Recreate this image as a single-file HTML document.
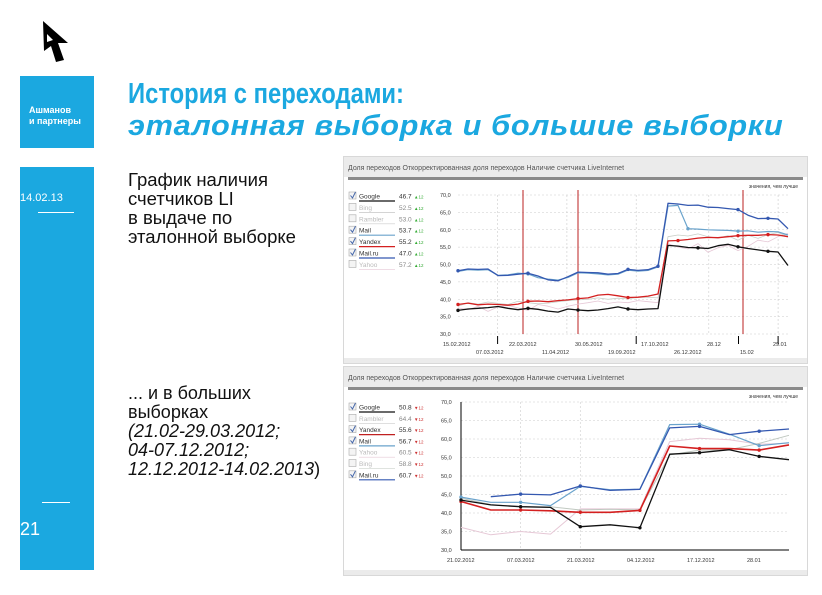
<!DOCTYPE html>
<html><head><meta charset="utf-8">
<style>
body{margin:0;width:822px;height:595px;background:#fff;position:relative;overflow:hidden;font-family:"Liberation Sans",sans-serif}
.abs{position:absolute}
.blue{background:#1ba8e0}
.t1{left:128px;top:78px;font-size:29px;font-weight:bold;color:#1ba8e0;white-space:nowrap;transform-origin:0 0;transform:scaleX(0.82)}
.t2{left:128px;top:110px;font-size:29px;font-weight:bold;font-style:italic;color:#1ba8e0;white-space:nowrap;letter-spacing:0.6px;transform-origin:0 0;transform:scaleX(1.06)}
.body{font-size:18.5px;line-height:19px;color:#111}
</style></head><body>
<svg class="abs" style="left:38px;top:18px" width="36" height="48"><polygon points="5,3 30,25 20,25 26,42 18,44 13,28 6,33" fill="#000"/><polygon points="9,16 15,22 9,24" fill="#fff"/></svg>
<div class="abs blue" style="left:20px;top:76px;width:74px;height:72px">
<div style="color:#fff;font-size:9px;font-weight:bold;margin:29px 0 0 9px;line-height:11px">Ашманов<br>и партнеры</div></div>
<div class="abs blue" style="left:20px;top:167px;width:74px;height:403px">
<div class="abs" style="left:0;top:25px;color:#fff;font-size:11px">14.02.13</div>
<div class="abs" style="left:18px;top:45px;width:36px;height:1px;background:#fff"></div>
<div class="abs" style="left:22px;top:335px;width:28px;height:1px;background:#fff"></div>
<div class="abs" style="left:0;top:352px;color:#fff;font-size:18px">21</div>
</div>
<div class="abs t1">История с переходами:</div>
<div class="abs t2">эталонная выборка и большие выборки</div>
<div class="abs body" style="left:128px;top:170px">График наличия<br>счетчиков LI<br>в выдаче по<br>эталонной выборке</div>
<div class="abs body" style="left:128px;top:384px;font-size:18px">... и в больших<br>выборках<br><i>(21.02-29.03.2012;<br>04-07.12.2012;<br>12.12.2012-14.02.2013</i>)</div>

<svg class="abs" id="c1" style="left:343px;top:156px" width="465" height="208"></svg>
<svg class="abs" id="c2" style="left:343px;top:366px" width="465" height="210"></svg>

<script>
const topTicks=["70,0","65,0","60,0","55,0","50,0","45,0","40,0","35,0","30,0"];
const topXLabels1=["15.02.2012","22.03.2012","30.05.2012","17.10.2012","28.12","29.01"];
const topXLabels2=["07.03.2012","11.04.2012","19.09.2012","26.12.2012","15.02"];
const topNames=["Google","Bing","Rambler","Mail","Yandex","Mail.ru","Yahoo"];
const topVals=["46.7","52.5","53.0","53.7","55.2","47.0","57.2"];
const topChecked=[1,0,0,1,1,1,0];
const topMarkers=[6.5,12,28.5];
const topMailru=[48.2,48.7,48.6,48.7,46.8,46.9,47.2,47.5,46.7,45.6,45.3,46.5,47.8,47.7,47.6,47.2,47.4,48.6,48.3,48.5,49.5,67.6,67.4,67.0,67.1,66.5,66.4,66.1,65.8,64.2,63.2,63.3,63.1,60.3];
const topMail=[48.0,48.5,48.4,48.5,46.9,47.0,47.5,47.3,46.2,45.8,45.5,46.3,47.6,47.5,47.3,47.0,47.2,48.4,48.1,48.3,49.3,66.8,67.0,60.3,60.2,60.0,59.9,59.8,59.6,59.7,59.3,59.5,59.4,58.5];
const topYandex=[38.5,38.9,38.4,38.6,38.5,38.3,38.6,39.4,39.5,39.3,39.6,39.8,40.2,40.4,41.2,41.4,41.0,40.5,40.6,40.9,41.5,56.8,56.9,57.2,57.6,57.8,57.7,58.0,58.3,58.4,58.4,58.6,58.5,58.0];
const topGoogle=[36.8,37.2,37.4,37.6,37.9,37.4,37.0,37.4,37.1,36.6,36.3,37.2,36.9,36.7,36.9,37.3,37.8,37.2,37.0,37.2,37.3,55.5,55.3,54.9,54.8,54.6,55.4,55.8,55.1,54.6,54.2,53.8,53.6,49.7];
const topYahoo=[37.5,37.0,38.0,36.5,37.8,38.2,37.5,36.8,38.5,38.0,37.2,38.0,38.6,39.0,39.5,38.8,39.2,39.0,39.6,39.3,39.0,56.0,55.0,54.5,56.0,53.5,54.8,55.5,54.0,55.2,57.0,56.5,58.0,59.0];
const topBing=[38.0,39.0,38.6,39.2,38.8,38.5,39.4,39.0,38.7,38.9,39.3,39.6,39.8,40.0,40.4,40.0,40.3,40.1,40.5,40.6,40.4,58.0,58.5,58.2,58.8,58.0,57.6,58.3,57.0,58.4,57.5,58.6,59.2,58.0];

const botTicks=["70,0","65,0","60,0","55,0","50,0","45,0","40,0","35,0","30,0"];
const botXLabels=["21.02.2012","07.03.2012","21.03.2012","04.12.2012","17.12.2012","28.01"];
const botNames=["Google","Rambler","Yandex","Mail","Yahoo","Bing","Mail.ru"];
const botVals=["50.8","64.4","55.6","56.7","60.5","58.8","60.7"];
const botChecked=[1,0,1,1,0,0,1];
const botGoogle=[43.5,42.2,41.7,41.5,36.3,36.8,36.0,55.9,56.3,57.1,55.3,54.4];
const botYandex=[43.1,40.8,40.8,40.6,40.2,40.2,40.7,58.1,57.4,57.4,57.0,58.4];
const botMail=[44.3,42.9,42.9,42.0,47.2,46.3,46.4,63.9,64.0,61.3,58.2,59.0];
const botMailru=[null,44.4,45.1,44.9,47.3,46.1,46.4,63.0,63.4,61.2,62.1,62.7];
const botYahoo=[36.1,34.1,35.0,34.3,41.1,41.1,41.1,59.3,60.2,59.8,58.6,58.9];
const botBing=[44.0,42.3,41.7,41.7,40.8,41.0,40.8,55.7,57.0,57.1,58.8,61.0];

const NS="http://www.w3.org/2000/svg";
function mk(svg,tag,attrs,text){const e=document.createElementNS(NS,tag);for(const k in attrs)e.setAttribute(k,attrs[k]);if(text!==undefined)e.textContent=text;svg.appendChild(e);return e;}

function frame(svg,h,headerText){
  const a=mk(svg,'rect',{x:0.5,y:0.5,width:464,height:h-1,fill:'#fff',stroke:'#d8d8d8'});
  
  
  const hd=mk(svg,'rect',{x:1,y:1,width:463,height:20,fill:'#ebebeb'});
  
  
  const tab=mk(svg,'text',{x:5,y:14,'font-size':7,fill:'#555','font-family':'Liberation Sans'},headerText);
  
  
  mk(svg,'rect',{x:5,y:21,width:455,height:3,fill:'#8a8a8a'});
  mk(svg,'rect',{x:1,y:h-6,width:463,height:5,fill:'#ebebeb'});
  mk(svg,'text',{x:455,y:32,'font-size':5,fill:'#333','text-anchor':'end'},'значения, чем лучше');
}

function legend(svg,names,vals,checked,y0,dy,colors,up){
  names.forEach((n,i)=>{
    const y=y0+i*dy;
    const g=mk(svg,'g',{});
    
    
    mk(g,'rect',{x:6,y:y-5,width:7,height:7,fill:'#f4f4f4',stroke:'#aaa','stroke-width':0.6});
    if(checked[i]) mk(g,'path',{d:`M7.5 ${y-1.5} L9.5 ${y+1} L12.5 ${y-5}`,stroke:'#4466aa','stroke-width':1,fill:'none'});
    mk(g,'text',{x:16,y:y+1.5,'font-size':6.5,fill:checked[i]?'#333':'#bbb'},n);
    mk(g,'line',{x1:16,x2:52,y1:y+4,y2:y+4,stroke:colors[i],'stroke-width':checked[i]?1.2:0.6});
    mk(g,'text',{x:56,y:y+1.5,'font-size':6.5,fill:checked[i]?'#333':'#888'},vals[i]);
    mk(g,'text',{x:71,y:y+1.5,'font-size':4.5,fill:up?'#3a3':'#c33'},up?'▲12':'▼12');
  });
}

function series(svg,data,xf,yf,color,w,dots,name){
  let d='';let pen=false;
  data.forEach((v,i)=>{if(v===null){pen=false;return;}d+=(pen?'L':'M')+xf(i).toFixed(1)+' '+yf(v).toFixed(1)+' ';pen=true;});
  const p=mk(svg,'path',{d:d,fill:'none',stroke:color,'stroke-width':w,'stroke-linejoin':'round'});
  
  
  if(dots) data.forEach((v,i)=>{if(v===null)return;if(dots===true||dots.includes(i)){const c=mk(svg,'circle',{cx:xf(i),cy:yf(v),r:1.7,fill:color});}});
}

(function(){
  const svg=document.getElementById('c1');
  frame(svg,208,'Доля переходов   Откорректированная доля переходов   Наличие счетчика LiveInternet');
  const L=115,R=445,T=39,B=178;
  const yf=v=>B-(v-30)/40*(B-T);
  const n=topGoogle.length;
  const xf=i=>L+i/(n-1)*(R-L);
  topTicks.forEach((t,i)=>{const y=T+i*(B-T)/8;
    mk(svg,'line',{x1:L,x2:R,y1:y,y2:y,stroke:'#ccc','stroke-dasharray':'2,2','stroke-width':0.6});
    mk(svg,'text',{x:L-18,y:y+2,'font-size':5.5,fill:'#333'},t);});
  [0.12,0.33,0.54,0.76,0.97].forEach(f=>mk(svg,'line',{x1:L+f*(R-L),x2:L+f*(R-L),y1:T,y2:B,stroke:'#ccc','stroke-dasharray':'2,2','stroke-width':0.6}));
  topMarkers.forEach(m=>{const l=mk(svg,'line',{x1:xf(m),x2:xf(m),y1:T-5,y2:B,stroke:'#b22','stroke-width':1});});
  series(svg,topYahoo,xf,yf,'#e6c8d6',0.8,false,'yahoo');
  series(svg,topBing,xf,yf,'#c8cfc8',0.8,false,'bing');
  series(svg,topMail,xf,yf,'#6aa3cc',1.2,[7,23,28],'mail');
  series(svg,topMailru,xf,yf,'#3458b0',1.3,[0,7,17,20,28,31],'mailru');
  series(svg,topYandex,xf,yf,'#d42020',1.3,[0,7,12,17,22,28,31],'yandex');
  series(svg,topGoogle,xf,yf,'#111',1.3,[0,7,12,17,24,28,31],'google');
  topXLabels1.forEach((t,i)=>mk(svg,'text',{x:L-15+i*66,y:190,'font-size':5.5,fill:'#333'},t));
  topXLabels2.forEach((t,i)=>mk(svg,'text',{x:L+18+i*66,y:198,'font-size':5.5,fill:'#333'},t));
  [0.12,0.54,0.85,0.97].forEach(f=>mk(svg,'line',{x1:L+f*(R-L),x2:L+f*(R-L),y1:B+2,y2:B+10,stroke:'#000','stroke-width':1}));
  legend(svg,topNames,topVals,topChecked,41,11.4,['#111','#bbb','#ccc','#6aa3cc','#d42020','#3458b0','#e6c8d6'],true);
})();

(function(){
  const svg=document.getElementById('c2');
  frame(svg,210,'Доля переходов   Откорректированная доля переходов   Наличие счетчика LiveInternet');
  const L=118,R=446,T=36,B=184;
  const yf=v=>B-(v-30)/40*(B-T);
  const n=botGoogle.length;
  const xf=i=>L+i/(n-1)*(R-L);
  botTicks.forEach((t,i)=>{const y=T+i*(B-T)/8;
    mk(svg,'line',{x1:L,x2:R,y1:y,y2:y,stroke:'#ccc','stroke-dasharray':'2,2','stroke-width':0.6});
    mk(svg,'text',{x:L-20,y:y+2,'font-size':5.5,fill:'#333'},t);});
  [2,4].forEach(i=>mk(svg,'line',{x1:xf(i),x2:xf(i),y1:T,y2:B,stroke:'#ccc','stroke-dasharray':'2,2','stroke-width':0.6}));
  mk(svg,'line',{x1:L,x2:L,y1:T,y2:B,stroke:'#000','stroke-width':1});
  mk(svg,'line',{x1:L,x2:R,y1:B,y2:B,stroke:'#000','stroke-width':1});
  series(svg,botYahoo,xf,yf,'#e6c8d6',1,false,'yahoo');
  series(svg,botBing,xf,yf,'#c0c8c0',1,false,'bing');
  series(svg,botMail,xf,yf,'#6aa3cc',1.2,[0,2,4,8,10],'mail');
  series(svg,botMailru,xf,yf,'#3458b0',1.3,[2,4,8,10],'mailru');
  series(svg,botYandex,xf,yf,'#d42020',1.6,[0,2,4,6,8,10],'yandex');
  series(svg,botGoogle,xf,yf,'#111',1.3,[0,2,4,6,8,10],'google');
  botXLabels.forEach((t,i)=>mk(svg,'text',{x:L-14+i*60,y:196,'font-size':5.5,fill:'#333'},t));
  legend(svg,botNames,botVals,botChecked,42,11.3,['#111','#ccc','#c02020','#6aa3cc','#e6c8d6','#c0c8c0','#3458b0'],false);
})();
</script>
</body></html>
